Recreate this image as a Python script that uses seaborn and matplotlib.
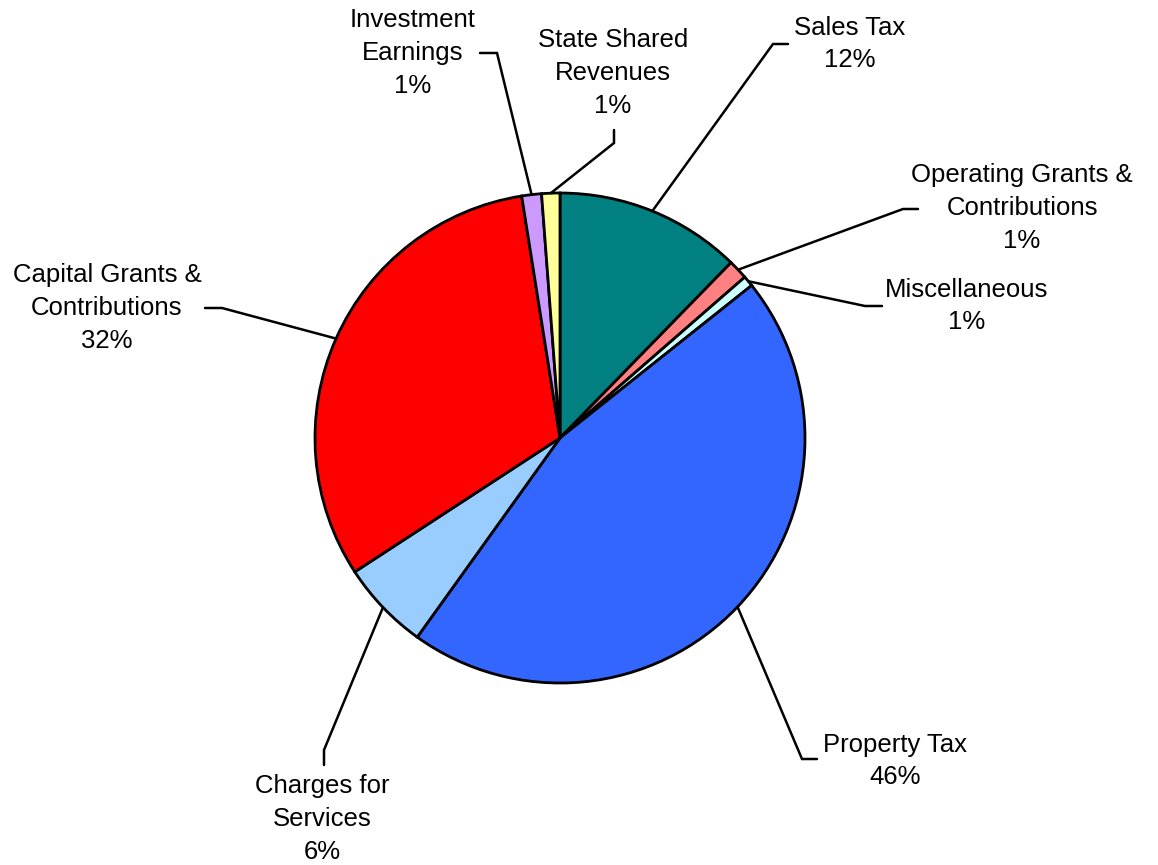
import numpy as np
import matplotlib
matplotlib.use("Agg")
import matplotlib.pyplot as plt
import seaborn as sb


########################################################## DADOS
categorias = ["Sales Tax", "Operating Grants &\nContributions", "Miscellaneous",
              "Property Tax", "Charges for\nServices", "Capital Grants &\nContributions",
              "Investment\nEarnings", "State Shared\nRevenues"]
valores = [12.3, 1.3, 0.7, 45.6, 5.9, 31.7, 1.3, 1.2]
cores = ["#008080", "#FF8080", "#CCFFFF", "#3366FF", "#99CCFF", "#FF0000", "#CC99FF", "#FFFF99"]

# posicoes (pixels) dos rotulos e das linhas guia: texto, cotovelo, ponta
pos_texto = [(850, 44), (1022, 208), (967, 306), (895, 761),
             (322, 819), (107, 308), (413, 53), (613, 73)]
pos_cotovelo = [(773, 44), (903, 209), (865, 306), (802, 759),
                (324, 750), (222, 308), (497, 53), (614, 143)]
pos_ponta = [(788, 44), (918, 209), (882, 306), (817, 759),
             (324, 765), (205, 308), (480, 53), (614, 130)]

W, H = 1158, 865
cx, cy, raio = 560, 438, 245


########################################################## GRAFICO
sb.set_theme(style="white")
plt.rcParams['font.family'] = ['Liberation Sans', 'DejaVu Sans']

fig = plt.figure(figsize=(W / 100, H / 100), dpi=100)
ax = fig.add_axes([0, 0, 1, 1])

fatias, _ = ax.pie(valores, colors=cores, startangle=90, counterclock=False,
                   center=(cx, H - cy), radius=raio,
                   wedgeprops=dict(edgecolor="black", linewidth=2))

ax.set_xlim(0, W)
ax.set_ylim(0, H)
ax.set_aspect('equal')
ax.axis('off')

for fatia, nome, v, t, c, p in zip(fatias, categorias, valores, pos_texto, pos_cotovelo, pos_ponta):
    ang = np.deg2rad((fatia.theta1 + fatia.theta2) / 2)
    x0 = cx + raio * np.cos(ang)
    y0 = (H - cy) + raio * np.sin(ang)
    ax.plot([x0, c[0], p[0]], [y0, H - c[1], H - p[1]], color="black", lw=1.8,
            solid_joinstyle='miter')
    ax.text(t[0], H - t[1], f"{nome}\n{round(v)}%", ha="center", va="center",
            fontsize=18.5, linespacing=1.47, color="black")

plt.savefig("out.png", dpi=100)
